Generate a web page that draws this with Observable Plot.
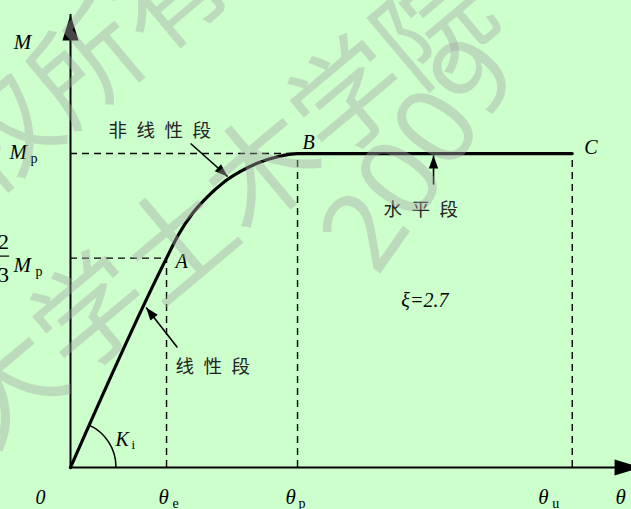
<!DOCTYPE html>
<html>
<head>
<meta charset="utf-8">
<script src="https://cdn.jsdelivr.net/npm/d3@7"></script>
<script src="https://cdn.jsdelivr.net/npm/@observablehq/plot@0.6"></script>
<style>
  html, body { margin: 0; padding: 0; background: #ccffcc; }
  g[aria-description="segment names"] text { letter-spacing: 9.5px; }
</style>
</head>
<body>
<script>
// Moment–rotation skeleton curve: M in units of Mp, θ in units of θp
const keyPoints = ["O", "A", "B", "C"];
const keyTheta = [0, 0.423, 1.0, 2.21];
const keyM = [0, 0.667, 1.0, 1.0];

// smooth transition from A (elastic limit) to B (plastic moment)
const bendTheta = [0.423, 0.476, 0.537, 0.604, 0.674, 0.749, 0.828, 0.912, 1.0];
const bendM = [0.667, 0.742, 0.809, 0.863, 0.908, 0.943, 0.971, 0.990, 1.0];

const thetaSubs = ["e", "p", "u"];           // θe, θp, θu under A, B, C
const ductility = "ξ=2.7";
const segmentNames = ["非线性段", "水平段", "线性段"];
const calloutTailTheta = [0.529, 1.599, 0.471];
const calloutTailM = [1.032, 0.901, 0.382];
const calloutTipTheta = [0.692, 1.599, 0.333];
const calloutTipM = [0.927, 0.994, 0.510];
const watermarkLines = ["版权所有", "同济大学土木学院", "2009"];

const thetaMax = 2.471, mMax = 1.443, thetaArrow = 2.511;

// layout
const W = 631, H = 509, mL = 70, mR = 0, mT = 14, mB = 42;
const sx = d3.scaleLinear([0, thetaMax], [mL, W - mR]);
const sy = d3.scaleLinear([0, mMax], [H - mB, mT]);

const serif = "'Liberation Serif', 'Times New Roman', serif";
const cjk = "'Noto Sans CJK SC', sans-serif";

// skeleton: O → A → (bend) → B → C
const skeleton = [{theta: keyTheta[0], m: keyM[0]}]
  .concat(bendTheta.map((t, i) => ({theta: t, m: bendM[i]})))
  .concat([{theta: keyTheta[3], m: keyM[3]}]);

const callouts = segmentNames.map((name, i) => {
  const x1 = calloutTailTheta[i], y1 = calloutTailM[i];
  const x2 = calloutTipTheta[i], y2 = calloutTipM[i];
  const angle = Math.atan2(sx(x2) - sx(x1), -(sy(y2) - sy(y1))) * 180 / Math.PI;
  return {name, x1, y1, x2, y2, angle};
});

// filled arrowhead with its tip at the anchor, pointing up before rotation
const arrowHead = (ratio) => ({
  draw(ctx, size) {
    const L = Math.sqrt(size / Math.PI), w = L * ratio;
    ctx.moveTo(0, 0);
    ctx.lineTo(w, L);
    ctx.lineTo(-w, L);
    ctx.closePath();
  }
});

// angle arc Ki between the θ axis and OA
function angleArc(index, scales) {
  const {x, y} = scales;
  const x0 = x(keyTheta[0]), y0 = y(keyM[0]);
  const phi = Math.atan2(y0 - y(keyM[1]), x(keyTheta[1]) - x0);
  const R = 46;
  return d3.create("svg:path")
    .attr("d", `M${x0 + R},${y0}A${R},${R} 0 0 0 ${x0 + R * Math.cos(phi)},${y0 - R * Math.sin(phi)}`)
    .attr("fill", "none").attr("stroke", "black").attr("stroke-width", 1.5)
    .node();
}

const italic = (data, opts) => Plot.text(data, {
  fontFamily: serif, fontStyle: "italic", fontSize: 20, lineAnchor: "bottom",
  textAnchor: "start", fill: "black", ...opts
});
const upright = (data, opts) => Plot.text(data, {
  fontFamily: serif, fontSize: 14, lineAnchor: "bottom", textAnchor: "start",
  fill: "black", ...opts
});
const dash = {stroke: "black", strokeWidth: 1.4, strokeDasharray: "7,5"};
const watermark = {frameAnchor: "top-left", text: d => d, fill: "#a8a8a8", fillOpacity: 0.42,
  textAnchor: "middle", lineAnchor: "middle"};

const tickAt = keyTheta.slice(1);
const thetaTickDx = [[-8, 6], [-12, 1], [-34, -20]];

const plot = Plot.plot({
  width: W, height: H,
  marginLeft: mL, marginRight: mR, marginTop: mT, marginBottom: mB,
  x: {domain: [0, thetaMax], axis: null},
  y: {domain: [0, mMax], axis: null},
  style: {background: "#ccffcc", overflow: "hidden"},
  marks: [
    // dashed guides
    Plot.ruleY([1, 2], {y: i => keyM[i], x1: 0, x2: i => keyTheta[i], ...dash}),
    Plot.ruleX([1, 2, 3], {x: i => keyTheta[i], y1: 0, y2: i => keyM[i], ...dash}),

    // axes with arrowheads
    Plot.ruleX([0], {y1: 0, y2: mMax, stroke: "black", strokeWidth: 2}),
    Plot.ruleY([0], {x1: 0, x2: thetaArrow, stroke: "black", strokeWidth: 2}),
    Plot.dot([{x: 0, y: mMax, a: 0}, {x: thetaArrow, y: 0, a: 90}], {
      x: "x", y: "y", rotate: "a", symbol: arrowHead(0.31), r: 26, fill: "black", stroke: "none"
    }),

    // skeleton curve
    Plot.line(skeleton, {x: "theta", y: "m", curve: "monotone-x", stroke: "black",
      strokeWidth: 3.2, strokeLinejoin: "round"}),

    angleArc,

    // callouts
    Plot.link(callouts, {x1: "x1", y1: "y1", x2: "x2", y2: "y2", stroke: "black", strokeWidth: 1.6}),
    Plot.dot(callouts, {x: "x2", y: "y2", rotate: "angle", symbol: arrowHead(0.36), r: 13,
      fill: "black", stroke: "none"}),
    ...[[-82, -7], [-50, 31], [-2, 25]].map(([dx, dy], i) =>
      Plot.text([callouts[i]], {x: "x1", y: "y1", text: "name", dx, dy, textAnchor: "start",
        lineAnchor: "bottom", fontFamily: cjk, fontSize: 18.5, fill: "#222",
        ariaDescription: "segment names"})),

    // point names
    italic([1], {x: i => keyTheta[i], y: i => keyM[i], text: i => keyPoints[i], dx: 9, dy: 10}),
    italic([2], {x: i => keyTheta[i], y: i => keyM[i], text: i => keyPoints[i], dx: 5, dy: -5}),
    italic([3], {x: i => keyTheta[i], y: i => keyM[i], text: i => keyPoints[i], dx: 12, dy: 0}),
    italic([ductility], {x: (keyTheta[2] + keyTheta[3]) / 2, y: 0.5, text: d => d,
      textAnchor: "middle", dx: -10, dy: -4}),

    // θ axis labels
    italic(["0"], {x: 0, y: 0, text: d => d, textAnchor: "middle", dx: -30, dy: 36}),
    ...tickAt.map((t, i) => italic(["θ"], {x: t, y: 0, text: d => d, fontSize: 21,
      dx: thetaTickDx[i][0], dy: 36})),
    ...tickAt.map((t, i) => upright([thetaSubs[i]], {x: t, y: 0, text: d => d,
      dx: thetaTickDx[i][1], dy: 40})),
    italic(["θ"], {x: thetaMax, y: 0, text: d => d, fontSize: 21, dx: -16, dy: 36}),

    // M axis labels
    italic(["M"], {x: 0, y: mMax, text: d => d, fontSize: 21, textAnchor: "middle", dx: -48, dy: 34}),
    italic(["M"], {x: 0, y: keyM[2], text: d => d, fontSize: 21, dx: -61, dy: 5}),
    upright(["p"], {x: 0, y: keyM[2], text: d => d, dx: -40, dy: 9}),
    upright(["2"], {x: 0, y: keyM[1], text: d => d, fontSize: 22, textAnchor: "middle", dx: -67, dy: -9}),
    upright(["3"], {x: 0, y: keyM[1], text: d => d, fontSize: 22, textAnchor: "middle", dx: -67, dy: 24}),
    Plot.ruleY([keyM[1]], {x1: -0.32, x2: -0.268, dy: -2, stroke: "black", strokeWidth: 1.2}),
    italic(["M"], {x: 0, y: keyM[1], text: d => d, fontSize: 21, dx: -57, dy: 14}),
    upright(["p"], {x: 0, y: keyM[1], text: d => d, dx: -35, dy: 18}),

    // Ki
    italic(["K"], {x: 0, y: 0, text: d => d, dx: 45, dy: -22}),
    upright(["i"], {x: 0, y: 0, text: d => d, fontSize: 13, dx: 61, dy: -19}),

    // watermark
    Plot.text([watermarkLines[0]], {...watermark, dx: -24, dy: 89, rotate: -40,
      fontFamily: cjk, fontSize: 110}),
    Plot.text([watermarkLines[1]], {...watermark, dx: 66, dy: 266, rotate: -40,
      fontFamily: cjk, fontSize: 112}),
    Plot.text([watermarkLines[2]], {...watermark, dx: 350, dy: 140, rotate: -55,
      fontFamily: "'Noto Sans', sans-serif", fontSize: 110})
  ]
});

document.body.appendChild(plot);
</script>
</body>
</html>
